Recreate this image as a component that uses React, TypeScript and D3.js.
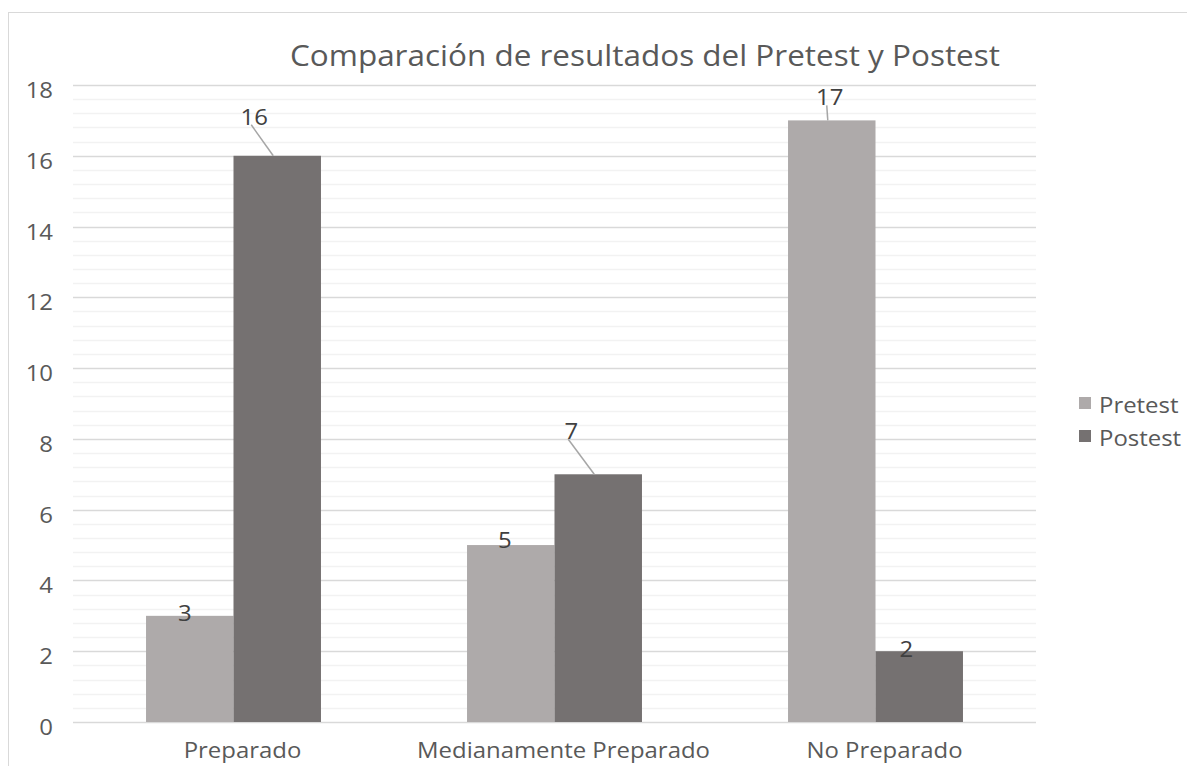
import { useMemo } from "react";
import * as d3 from "d3";

const categories = ["Preparado", "Medianamente Preparado", "No Preparado"];
const seriesNames = ["Pretest", "Postest"];
const pretestValues = [3, 5, 17];
const postestValues = [16, 7, 2];
const yTicks = [0, 2, 4, 6, 8, 10, 12, 14, 16, 18];

const colors: Record<string, string> = { Pretest: "#AEAAAA", Postest: "#757171" };

// label offsets (dx, dy) from bar top-center; leader drawn when label sits above
const labelOffsets: Record<string, [number, number][]> = {
  Pretest: [[-5, 5], [-6, 3], [-2, -15]],
  Postest: [[-23, -31], [-27, -35], [-13, 6]],
};

const W = 1187;
const H = 766;
const margin = { left: 73, right: 151, top: 85, bottom: 44 };
const font = "'Open Sans', 'DejaVu Sans', sans-serif";
const stretch = 1.14;

// text drawn slightly wider than the font, like the source image
const Txt = ({ x, y, size, anchor = "start", fill = "#595959", children }: any) => (
  <text
    transform={`translate(${x},${y}) scale(${stretch},1)`}
    textAnchor={anchor}
    fontFamily={font}
    fontSize={size}
    fill={fill}
  >
    {children}
  </text>
);

const App = () => {
  const x0 = useMemo(
    () => d3.scaleBand<string>().domain(categories).range([margin.left, W - margin.right]).paddingInner(0.455).paddingOuter(0.2275),
    []
  );
  const x1 = useMemo(() => d3.scaleBand<string>().domain(seriesNames).range([0, x0.bandwidth()]), [x0]);
  const y = useMemo(() => d3.scaleLinear().domain([0, 18]).range([H - margin.bottom, margin.top]), []);

  const minorTicks = d3.range(0, 18.001, 0.4).filter((v) => Math.abs(v / 2 - Math.round(v / 2)) > 0.01);
  const series: Record<string, number[]> = { Pretest: pretestValues, Postest: postestValues };

  return (
    <svg width={W} height={H} style={{ position: "absolute", left: 0, top: 0, background: "#fff" }}>
      <rect x={8.5} y={12.5} width={W} height={H} fill="#fff" stroke="#D9D9D9" />
      <text x={645} y={66} textAnchor="middle" fontFamily={font} fontSize={29} fill="#595959" textLength={710} lengthAdjust="spacingAndGlyphs">
        Comparación de resultados del Pretest y Postest
      </text>
      {minorTicks.map((t) => (
        <line key={"m" + t} x1={margin.left} x2={W - margin.right} y1={Math.round(y(t)) + 0.5} y2={Math.round(y(t)) + 0.5} stroke="#F2F2F2" strokeWidth={1.5} />
      ))}
      {yTicks.map((t) => (
        <g key={t}>
          <line x1={margin.left} x2={W - margin.right} y1={Math.round(y(t)) + 0.5} y2={Math.round(y(t)) + 0.5} stroke="#D9D9D9" strokeWidth={1.5} />
          <Txt x={53} y={y(t) + 13} size={21} anchor="end">
            {t}
          </Txt>
        </g>
      ))}
      {categories.map((c, i) =>
        seriesNames.map((s) => {
          const v = series[s][i];
          const bx = (x0(c) || 0) + (x1(s) || 0);
          const cx = bx + x1.bandwidth() / 2;
          const top = y(v);
          const [dx, dy] = labelOffsets[s][i];
          const leader = dy < -10;
          return (
            <g key={c + s}>
              <rect x={bx} y={top} width={x1.bandwidth()} height={y(0) - top} fill={colors[s]} />
              {leader && <line x1={cx + dx - 3} y1={top + dy} x2={cx - 4} y2={top} stroke="#A6A6A6" strokeWidth={1.5} />}
              <Txt x={cx + dx} y={top + dy} size={21} anchor="middle" fill="#404040">
                {v}
              </Txt>
            </g>
          );
        })
      )}
      {categories.map((c) => (
        <Txt key={c} x={(x0(c) || 0) + x0.bandwidth() / 2 + 9} y={758} size={21} anchor="middle">
          {c}
        </Txt>
      ))}
      {seriesNames.map((s, i) => (
        <g key={s} transform={`translate(1079, ${397 + i * 33})`}>
          <rect x={0} y={0} width={12} height={12} fill={colors[s]} />
          <Txt x={20} y={16} size={21}>
            {s}
          </Txt>
        </g>
      ))}
    </svg>
  );
};

export default App;
